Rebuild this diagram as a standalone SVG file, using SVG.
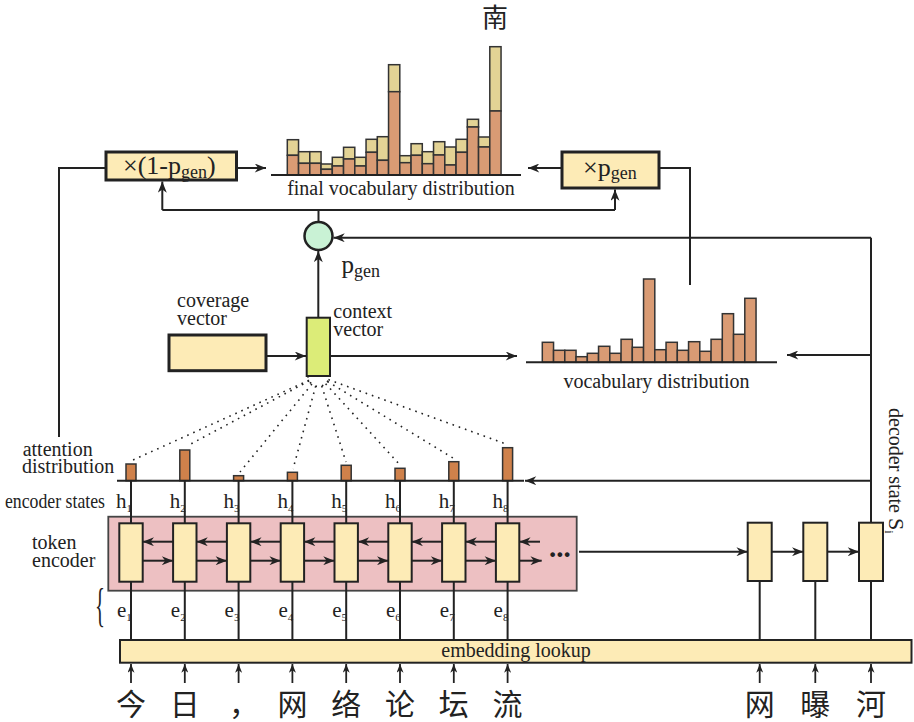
<svg xmlns="http://www.w3.org/2000/svg" width="914" height="722" viewBox="0 0 914 722">
<defs>
<style>
.t{font-family:"Liberation Serif","Times New Roman",serif;font-size:20px;fill:#222}
.cjk{font-family:"Noto Sans CJK SC",sans-serif;font-size:30px;fill:#222;text-anchor:middle}
.ln{stroke:#222;stroke-width:2;fill:none}
.box{fill:#fdebb6;stroke:#222;stroke-width:2}
.thick{fill:#fdebb6;stroke:#222;stroke-width:3}
.bo{fill:#d99b74;stroke:#333;stroke-width:1.5}
.bt{fill:#e3d395;stroke:#333;stroke-width:1.5}
.att{fill:#cf814b;stroke:#333;stroke-width:1.5}
.dot{stroke:#222;stroke-width:1.6;stroke-dasharray:1.6 5;fill:none}
</style>
<marker id="ah" viewBox="0 0 10 8" refX="10" refY="4" markerWidth="12" markerHeight="9" orient="auto" markerUnits="userSpaceOnUse">
<path d="M0,0 L10,4 L0,8 L3,4 z" fill="#222"/>
</marker>
<marker id="ahs" viewBox="0 0 10 8" refX="10" refY="4" markerWidth="9" markerHeight="7" orient="auto" markerUnits="userSpaceOnUse">
<path d="M0,0 L10,4 L0,8 L3,4 z" fill="#222"/>
</marker>
</defs>
<rect width="914" height="722" fill="#fff"/>

<g id="final-distribution">
<text class="cjk" x="495" y="27" style="font-size:26px">南</text>
<g>
<rect class="bt" x="287.3" y="139.7" width="11.25" height="15.6"/><rect class="bo" x="287.3" y="155.3" width="11.25" height="19.7"/>
<rect class="bt" x="298.55" y="151.7" width="11.25" height="11.6"/><rect class="bo" x="298.55" y="163.3" width="11.25" height="11.7"/>
<rect class="bt" x="309.8" y="151.7" width="11.25" height="11.6"/><rect class="bo" x="309.8" y="163.3" width="11.25" height="11.7"/>
<rect class="bt" x="321.05" y="164" width="11.25" height="5.3"/><rect class="bo" x="321.05" y="169.3" width="11.25" height="5.7"/>
<rect class="bt" x="332.3" y="157.3" width="11.25" height="8.7"/><rect class="bo" x="332.3" y="166" width="11.25" height="9"/>
<rect class="bt" x="343.55" y="147.3" width="11.25" height="11.7"/><rect class="bo" x="343.55" y="159" width="11.25" height="16"/>
<rect class="bt" x="354.8" y="157.3" width="11.25" height="8.7"/><rect class="bo" x="354.8" y="166" width="11.25" height="9"/>
<rect class="bt" x="366.05" y="139.3" width="11.25" height="13"/><rect class="bo" x="366.05" y="152.3" width="11.25" height="22.7"/>
<rect class="bt" x="377.3" y="136.7" width="11.25" height="23.6"/><rect class="bo" x="377.3" y="160.3" width="11.25" height="14.7"/>
<rect class="bt" x="388.55" y="64.7" width="11.25" height="27"/><rect class="bo" x="388.55" y="91.7" width="11.25" height="83.3"/>
<rect class="bt" x="399.8" y="155.7" width="11.25" height="7"/><rect class="bo" x="399.8" y="162.7" width="11.25" height="12.3"/>
<rect class="bt" x="411.05" y="143.7" width="11.25" height="11.6"/><rect class="bo" x="411.05" y="155.3" width="11.25" height="19.7"/>
<rect class="bt" x="422.3" y="151.7" width="11.25" height="12"/><rect class="bo" x="422.3" y="163.7" width="11.25" height="11.3"/>
<rect class="bt" x="433.55" y="141.7" width="11.25" height="13.3"/><rect class="bo" x="433.55" y="155" width="11.25" height="20"/>
<rect class="bt" x="444.8" y="147" width="11.25" height="18"/><rect class="bo" x="444.8" y="165" width="11.25" height="10"/>
<rect class="bt" x="456.05" y="139.3" width="11.25" height="13"/><rect class="bo" x="456.05" y="152.3" width="11.25" height="22.7"/>
<rect class="bt" x="467.3" y="119.3" width="11.25" height="7.7"/><rect class="bo" x="467.3" y="127" width="11.25" height="48"/>
<rect class="bt" x="478.55" y="137" width="11.25" height="10"/><rect class="bo" x="478.55" y="147" width="11.25" height="28"/>
<rect class="bt" x="489.8" y="46.7" width="11.25" height="64.3"/><rect class="bo" x="489.8" y="111" width="11.25" height="64"/>
</g>
<line class="ln" x1="271" y1="175" x2="521" y2="175"/>
<text class="t" x="401" y="195" text-anchor="middle">final vocabulary distribution</text>
</g>

<g id="mul-one-minus-pgen">
<rect class="thick" x="106" y="152" width="130.5" height="28"/>
<text class="t" x="123" y="174" style="font-size:26px">×(1-p<tspan style="font-size:18px" dy="4">gen</tspan><tspan dy="-4">)</tspan></text>
</g>

<g id="mul-pgen">
<rect class="thick" x="562" y="152" width="97" height="36"/>
<text class="t" x="583" y="176" style="font-size:26px">×p<tspan style="font-size:18px" dy="3">gen</tspan></text>
</g>

<g id="pgen">
<circle cx="318.5" cy="236" r="14" fill="#c9f2d5" stroke="#222" stroke-width="2.5"/>
<text class="t" x="341.5" y="273" style="font-size:25px">p<tspan style="font-size:18px" dy="4">gen</tspan></text>
</g>

<g id="coverage-vector">
<rect class="thick" x="169" y="335" width="97" height="35.7"/>
<text class="t" x="177" y="306.7">coverage</text>
<text class="t" x="177" y="325">vector</text>
</g>

<g id="context-vector">
<rect x="306.7" y="317.7" width="23.3" height="58.3" fill="#dcec78" stroke="#222" stroke-width="2"/>
<text class="t" x="333.3" y="318.3">context</text>
<text class="t" x="333.3" y="336">vector</text>
</g>

<g id="vocabulary-distribution">
<g>
<rect class="bo" x="542.3" y="342.3" width="11.25" height="20"/>
<rect class="bo" x="553.55" y="350.3" width="11.25" height="12"/>
<rect class="bo" x="564.8" y="350.3" width="11.25" height="12"/>
<rect class="bo" x="576.05" y="356.7" width="11.25" height="5.6"/>
<rect class="bo" x="587.3" y="353.3" width="11.25" height="9"/>
<rect class="bo" x="598.55" y="346.3" width="11.25" height="16"/>
<rect class="bo" x="609.8" y="353.3" width="11.25" height="9"/>
<rect class="bo" x="621.05" y="339.3" width="11.25" height="23"/>
<rect class="bo" x="632.3" y="347.3" width="11.25" height="15"/>
<rect class="bo" x="643.55" y="279" width="11.25" height="83.3"/>
<rect class="bo" x="654.8" y="349.7" width="11.25" height="12.6"/>
<rect class="bo" x="666.05" y="342.3" width="11.25" height="20"/>
<rect class="bo" x="677.3" y="350.3" width="11.25" height="12"/>
<rect class="bo" x="688.55" y="341.7" width="11.25" height="20.6"/>
<rect class="bo" x="699.8" y="351.3" width="11.25" height="11"/>
<rect class="bo" x="711.05" y="339.3" width="11.25" height="23"/>
<rect class="bo" x="722.3" y="313.7" width="11.25" height="48.6"/>
<rect class="bo" x="733.55" y="334.3" width="11.25" height="28"/>
<rect class="bo" x="744.8" y="298.3" width="11.25" height="64"/>
</g>
<line class="ln" x1="526" y1="362.3" x2="777" y2="362.3"/>
<text class="t" x="656.5" y="388" text-anchor="middle">vocabulary distribution</text>
</g>

<g id="attention-distribution">
<text class="t" x="22.7" y="455.7">attention</text>
<text class="t" x="22" y="473">distribution</text>
<rect class="att" x="126" y="464" width="10" height="16.7"/>
<rect class="att" x="179.8" y="450" width="10" height="30.7"/>
<rect class="att" x="233.6" y="475.7" width="10" height="5"/>
<rect class="att" x="287.4" y="472.3" width="10" height="8.4"/>
<rect class="att" x="341.2" y="465.3" width="10" height="15.4"/>
<rect class="att" x="395" y="468.3" width="10" height="12.4"/>
<rect class="att" x="448.8" y="461.7" width="10" height="19"/>
<rect class="att" x="502.6" y="447.7" width="10" height="33"/>
<line class="ln" x1="117" y1="480.7" x2="524" y2="480.7"/>
</g>

<g id="encoder-states">
<text class="t" x="5" y="508.3" textLength="100" lengthAdjust="spacingAndGlyphs" style="font-size:21px">encoder states</text>
<g class="t" style="font-size:21px">
<text x="116" y="508">h<tspan style="font-size:11px" dy="4">1</tspan></text>
<text x="169.8" y="508">h<tspan style="font-size:11px" dy="4">2</tspan></text>
<text x="223.6" y="508">h<tspan style="font-size:11px" dy="4">3</tspan></text>
<text x="277.4" y="508">h<tspan style="font-size:11px" dy="4">4</tspan></text>
<text x="331.2" y="508">h<tspan style="font-size:11px" dy="4">5</tspan></text>
<text x="385" y="508">h<tspan style="font-size:11px" dy="4">6</tspan></text>
<text x="438.8" y="508">h<tspan style="font-size:11px" dy="4">7</tspan></text>
<text x="492.6" y="508">h<tspan style="font-size:11px" dy="4">8</tspan></text>
</g>
</g>

<g id="token-encoder">
<rect x="108.3" y="516.7" width="468.4" height="74" fill="#edc0c2" stroke="#444" stroke-width="1.8"/>
<text class="t" x="32" y="549">token</text>
<text class="t" x="32" y="567">encoder</text>
<g id="enc1"><rect class="box" x="119.3" y="523.3" width="23.4" height="58.4"/></g>
<g id="enc2"><rect class="box" x="173.1" y="523.3" width="23.4" height="58.4"/></g>
<g id="enc3"><rect class="box" x="226.9" y="523.3" width="23.4" height="58.4"/></g>
<g id="enc4"><rect class="box" x="280.7" y="523.3" width="23.4" height="58.4"/></g>
<g id="enc5"><rect class="box" x="334.5" y="523.3" width="23.4" height="58.4"/></g>
<g id="enc6"><rect class="box" x="388.3" y="523.3" width="23.4" height="58.4"/></g>
<g id="enc7"><rect class="box" x="442.1" y="523.3" width="23.4" height="58.4"/></g>
<g id="enc8"><rect class="box" x="495.9" y="523.3" width="23.4" height="58.4"/></g>
<text class="t" x="549" y="557" style="font-size:29px;font-weight:bold">...</text>
</g>

<g id="embeddings">
<text class="t" x="95" y="621" transform="translate(95,609) scale(0.45,1) translate(-95,-609)" style="font-size:46px">{</text>
<g class="t" style="font-size:21px">
<text x="117" y="616.7">e<tspan style="font-size:11px" dy="4">1</tspan></text>
<text x="170.8" y="616.7">e<tspan style="font-size:11px" dy="4">2</tspan></text>
<text x="224.6" y="616.7">e<tspan style="font-size:11px" dy="4">3</tspan></text>
<text x="278.4" y="616.7">e<tspan style="font-size:11px" dy="4">4</tspan></text>
<text x="332.2" y="616.7">e<tspan style="font-size:11px" dy="4">5</tspan></text>
<text x="386" y="616.7">e<tspan style="font-size:11px" dy="4">6</tspan></text>
<text x="439.8" y="616.7">e<tspan style="font-size:11px" dy="4">7</tspan></text>
<text x="493.6" y="616.7">e<tspan style="font-size:11px" dy="4">8</tspan></text>
</g>
</g>

<g id="decoder">
<g id="dec1"><rect class="box" x="747.7" y="522.7" width="24" height="58.3"/></g>
<g id="dec2"><rect class="box" x="803.3" y="522.7" width="24" height="58.3"/></g>
<g id="dec3"><rect class="box" x="859" y="522.7" width="24" height="58.3"/></g>
<text class="t" transform="translate(889,408) rotate(90)">decoder state <tspan style="font-size:22px">S</tspan><tspan style="font-size:12px" dy="4">i</tspan></text>
</g>

<g id="embedding-lookup">
<rect class="box" x="120" y="640" width="791.5" height="22.7"/>
<text class="t" x="516" y="657" text-anchor="middle">embedding lookup</text>
</g>

<g id="tokens">
<text class="cjk" x="131" y="715">今</text>
<text class="cjk" x="184.8" y="715">日</text>
<text class="cjk" x="244" y="715">，</text>
<text class="cjk" x="292.4" y="715">网</text>
<text class="cjk" x="346.2" y="715">络</text>
<text class="cjk" x="400" y="715">论</text>
<text class="cjk" x="453.8" y="715">坛</text>
<text class="cjk" x="507.6" y="715">流</text>
<text class="cjk" x="759.7" y="715">网</text>
<text class="cjk" x="815.3" y="715">曝</text>
<text class="cjk" x="871" y="715">河</text>
</g>

<g id="connectors">
<path class="ln" d="M106,168 H59 V437"/>
<path class="ln" d="M236.5,168 H266" marker-end="url(#ah)"/>
<path class="ln" d="M562,168 H528" marker-end="url(#ah)"/>
<path class="ln" d="M659,168 H690 V285"/>
<path class="ln" d="M318.5,222 V210"/>
<path class="ln" d="M162.3,210 H615"/>
<path class="ln" d="M162.3,210 V181.5" marker-end="url(#ah)"/>
<path class="ln" d="M615,210 V189.5" marker-end="url(#ah)"/>
<path class="ln" d="M318.3,317.7 V251" marker-end="url(#ah)"/>
<path class="ln" d="M871,522.7 V237.7"/>
<path class="ln" d="M871,237.7 H333.5" marker-end="url(#ah)"/>
<path class="ln" d="M871,355 H787" marker-end="url(#ah)"/>
<path class="ln" d="M871,480.7 H525" marker-end="url(#ah)"/>
<path class="ln" d="M266,356 H306" marker-end="url(#ah)"/>
<path class="ln" d="M330,356 H517" marker-end="url(#ah)"/>
<g class="ln">
<path d="M131,480.7 V523.3 M184.8,480.7 V523.3 M238.6,480.7 V523.3 M292.4,480.7 V523.3 M346.2,480.7 V523.3 M400,480.7 V523.3 M453.8,480.7 V523.3 M507.6,480.7 V523.3"/>
<path d="M131,581.7 V640 M184.8,581.7 V640 M238.6,581.7 V640 M292.4,581.7 V640 M346.2,581.7 V640 M400,581.7 V640 M453.8,581.7 V640 M507.6,581.7 V640"/>
<path d="M759.7,581 V640 M815.3,581 V640 M871,581 V640"/>
</g>
<g class="ln">
<path d="M173.1,541.7 H142.7" marker-end="url(#ah)"/>
<path d="M226.9,541.7 H196.5" marker-end="url(#ah)"/>
<path d="M280.7,541.7 H250.3" marker-end="url(#ah)"/>
<path d="M334.5,541.7 H304.1" marker-end="url(#ah)"/>
<path d="M388.3,541.7 H357.9" marker-end="url(#ah)"/>
<path d="M442.1,541.7 H411.7" marker-end="url(#ah)"/>
<path d="M495.9,541.7 H465.5" marker-end="url(#ah)"/>
<path d="M540,541.7 H519.3" marker-end="url(#ah)"/>
<path d="M142.7,560.7 H173.1" marker-end="url(#ah)"/>
<path d="M196.5,560.7 H226.9" marker-end="url(#ah)"/>
<path d="M250.3,560.7 H280.7" marker-end="url(#ah)"/>
<path d="M304.1,560.7 H334.5" marker-end="url(#ah)"/>
<path d="M357.9,560.7 H388.3" marker-end="url(#ah)"/>
<path d="M411.7,560.7 H442.1" marker-end="url(#ah)"/>
<path d="M465.5,560.7 H495.9" marker-end="url(#ah)"/>
<path d="M519.3,560.7 H541.7" marker-end="url(#ah)"/>
<path d="M579,551.7 H747.7" marker-end="url(#ah)"/>
<path d="M771.7,551.7 H803.3" marker-end="url(#ah)"/>
<path d="M827.3,551.7 H859" marker-end="url(#ah)"/>
</g>
<g class="ln" style="stroke-width:1.8">
<path d="M131,683 V664" marker-end="url(#ahs)"/>
<path d="M184.8,683 V664" marker-end="url(#ahs)"/>
<path d="M238.6,683 V664" marker-end="url(#ahs)"/>
<path d="M292.4,683 V664" marker-end="url(#ahs)"/>
<path d="M346.2,683 V664" marker-end="url(#ahs)"/>
<path d="M400,683 V664" marker-end="url(#ahs)"/>
<path d="M453.8,683 V664" marker-end="url(#ahs)"/>
<path d="M507.6,683 V664" marker-end="url(#ahs)"/>
<path d="M759.7,683 V664" marker-end="url(#ahs)"/>
<path d="M815.3,683 V664" marker-end="url(#ahs)"/>
<path d="M871,683 V664" marker-end="url(#ahs)"/>
</g>
<g class="dot">
<path d="M308,376 A10.5,10.5 0 0 0 329,376"/>
<path d="M308.9,380.3 L133,460"/>
<path d="M309.2,380.9 L187,446"/>
<path d="M311.9,384.1 L240,472"/>
<path d="M315.7,386.1 L293,469"/>
<path d="M321.7,386 L346,462"/>
<path d="M325.6,383.7 L400,465"/>
<path d="M327.5,381.5 L453,458"/>
<path d="M328.4,379.6 L506,444"/>
</g>
</g>
</svg>
